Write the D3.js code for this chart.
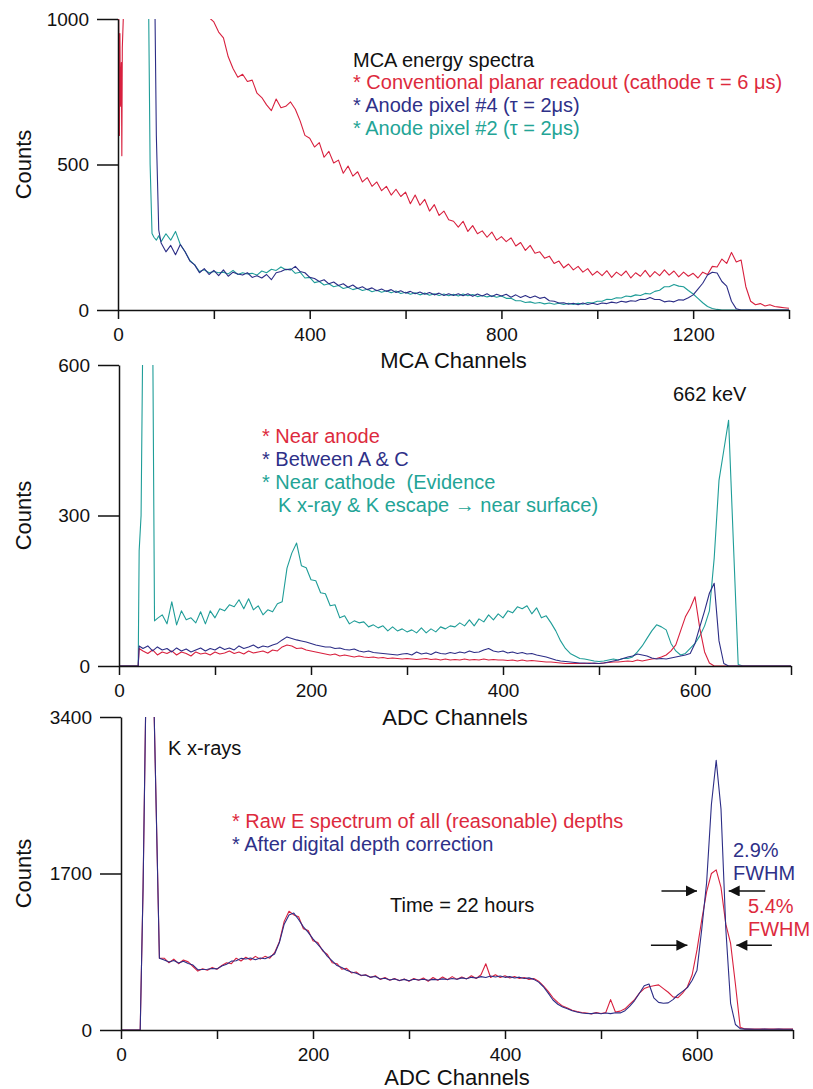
<!DOCTYPE html>
<html>
<head>
<meta charset="utf-8">
<script src="https://cdn.jsdelivr.net/npm/d3@7"></script>
<style>
  body { margin: 0; background: #fff; }
  svg { display: block; font-family: "Liberation Sans", Arial, Helvetica, sans-serif; }
  .axis path, .axis line { stroke: #111; stroke-width: 1.5px; }
  .axis text { fill: #111; font-size: 19px; }
  .spec { fill: none; stroke-width: 1.1px; stroke-linejoin: round; }
</style>
</head>
<body>
<svg id="chart" width="813" height="1089"></svg>
<script>
// ---- colours ----
const RED = '#d8203e', BLUE = '#2c2d86', TEAL = '#1f9d98';
const RED_TXT = '#dd2a3d', BLUE_TXT = '#2e3088', TEAL_TXT = '#23a496';

// ---- panel 1: MCA spectra (lead points are [channel, counts], then start/step blocks) ----
const topRedLead = [[0,0],[1,1250],[2,800],[3,600],[4,950],[5,700],[7,850],[8,530],[9,900],[11,1000],[13,1300]];
const topRed = [ // ch 20..1400, step 10
  1400,1450,1480,1460,1420,1400,1380,1350,1320,1290,
  1260,1230,1200,1170,1140,1100,1060,1005,990,955,
  935,870,830,800,810,785,790,745,730,705,
  685,725,695,700,715,690,650,600,590,560,
  575,525,545,505,515,470,495,460,475,440,
  455,425,440,410,425,395,415,390,405,365,
  395,360,380,340,362,325,340,310,305,285,
  305,270,290,262,272,250,268,240,252,235,
  248,220,232,205,222,195,200,178,185,160,
  168,145,158,138,150,130,142,120,133,118,
  135,112,130,118,134,110,128,116,136,114,
  132,118,138,120,134,114,130,116,126,110,
  130,122,150,148,175,160,198,165,172,80,
  30,18,22,14,18,12,10,8,6
];
const topBlueLead = [[60,3000],[76,1200],[80,600],[85,275],[90,230]];
const topBlue = [ // ch 100..1400, step 10
  200,222,190,225,200,168,155,128,142,122,
  136,118,138,116,130,124,120,128,112,118,
  110,122,104,128,132,140,138,150,132,128,
  112,108,98,104,90,96,84,90,78,86,
  74,80,70,76,66,72,64,70,60,66,
  58,64,56,62,54,60,52,58,50,56,
  50,56,49,56,47,55,48,56,46,54,
  48,54,44,52,43,50,42,48,40,44,
  32,30,24,25,20,23,18,24,19,23,
  19,24,22,27,24,30,27,32,30,37,
  36,43,36,36,28,31,28,35,34,42,
  52,72,92,120,130,127,98,82,30,4,
  0,0,0,0,0,0,0,0,0,0,0
];
const topTealLead = [[50,3000],[63,1200],[67,500],[71,263],[75,250],[80,240],[85,255],[90,235]];
const topTeal = [ // ch 100..1400, step 10
  262,240,270,225,200,170,155,132,138,128,
  132,128,130,124,136,122,128,124,126,120,
  134,128,140,136,148,138,142,126,130,110,
  112,94,98,86,90,80,84,74,78,70,
  75,67,71,63,68,61,66,59,65,57,
  61,54,59,52,58,51,56,50,55,49,
  54,48,55,49,53,46,50,45,49,44,
  48,40,40,32,32,26,28,23,26,21,
  24,20,23,19,23,19,23,20,26,24,
  30,30,37,36,42,41,48,46,52,50,
  57,55,64,68,80,80,88,82,80,67,
  55,40,25,12,5,2,0,0,0,0,
  0,0,0,0,0,0,0,0,0,0,0
];

// ---- panel 2: depth-sorted ADC spectra ----
const midTealLead = [[0,0],[20,0],[21,230],[23,300],[25,700],[35,700],[37,90]];
const midTeal = [ // ch 40..700, step 5
  95,102,84,128,82,110,92,96,86,108,
  84,110,96,114,110,122,118,132,114,134,
  112,120,102,112,108,124,128,195,225,245,
  200,196,172,170,146,144,120,122,96,100,
  84,90,86,88,78,82,76,80,70,78,
  70,74,68,72,66,76,66,74,68,78,
  74,80,78,86,80,92,80,94,88,102,
  92,104,96,110,106,118,114,120,104,116,
  96,100,86,70,50,35,25,20,15,14,
  12,10,9,10,12,14,12,15,15,18,
  28,40,55,70,82,78,72,45,30,22,
  25,35,45,60,80,110,215,370,430,490,
  245,3,0,0,0,0,0,0,0,0,
  0,0,0
];
const midRedLead = [[0,0],[20,0],[21,35]];
const midRed = [ // ch 25..700, step 5
  30,25,32,22,28,25,30,22,28,25,
  20,28,24,26,22,28,24,26,30,25,
  28,24,30,26,28,30,26,32,30,38,
  42,40,35,36,32,30,28,26,24,22,
  24,20,22,20,18,20,18,17,18,16,
  17,15,16,15,14,15,14,13,14,15,
  13,14,12,14,12,13,12,14,12,13,
  12,14,12,13,12,12,11,12,10,12,
  10,11,10,9,8,8,7,6,5,5,
  5,5,5,6,5,5,6,7,8,8,
  9,10,9,12,10,12,14,15,18,22,
  30,42,70,98,115,138,75,28,6,0,
  0,0,0,0,0,0,0,0,0,0,
  0,0,0,0,0,0
];
const midBlueLead = [[0,0],[20,0],[21,40]];
const midBlue = [ // ch 25..700, step 5
  35,40,30,38,32,35,28,36,30,34,
  28,32,36,30,35,32,38,33,36,32,
  40,35,38,42,36,40,38,42,45,52,
  58,55,52,50,48,45,42,40,38,38,
  35,36,33,32,34,30,28,30,27,26,
  25,24,23,22,24,25,22,28,24,26,
  23,28,25,24,27,25,28,26,30,27,
  28,32,35,30,28,30,26,28,25,27,
  24,25,22,20,18,15,12,10,9,8,
  7,6,6,5,6,5,6,8,10,12,
  15,18,20,24,22,20,16,14,15,14,
  16,18,20,22,25,45,78,110,145,165,
  50,5,0,0,0,0,0,0,0,0,
  0,0,0,0,0,0
];

// ---- panel 3: raw vs depth-corrected ----
const botLead = [[0,0],[20,0],[23,1550],[26,3700],[34,3700],[40,779]];
const botCorr = [ // ch 45..700, step 5
  760,738,755,728,748,722,705,655,658,660,
  668,664,696,714,748,752,778,772,782,764,
  782,774,796,826,950,1150,1250,1270,1200,1120,
  1060,990,930,870,800,750,700,680,650,630,
  616,594,596,574,582,554,562,544,555,538,
  550,534,552,544,552,540,550,546,555,548,
  560,552,566,556,572,564,580,570,586,576,
  586,572,580,565,574,560,566,550,520,470,
  400,326,280,250,230,210,195,185,180,178,
  184,176,185,178,188,186,210,260,320,400,
  480,500,350,300,290,295,330,380,420,460,
  540,650,1100,1600,2450,2930,2400,1100,290,60,
  15,10,9,8,8,9,8,8,9,8,
  8,8
];
const botRaw = [ // ch 45..700, step 5
  780,730,770,720,760,740,690,640,665,650,
  680,660,700,730,720,780,750,790,760,800,
  770,800,780,840,960,1180,1290,1250,1230,1100,
  1080,970,950,860,820,730,720,660,670,620,
  630,590,600,570,590,550,570,540,560,535,
  555,530,560,540,565,530,570,540,575,545,
  580,550,575,555,590,560,600,720,570,600,
  570,590,565,580,560,570,550,560,530,480,
  420,350,300,260,240,215,200,190,185,175,
  190,180,190,330,195,205,230,280,330,400,
  450,470,480,490,450,410,360,350,400,470,
  600,870,1200,1500,1700,1740,1550,1150,940,500,
  30,12,10,11,10,9,10,10,11,10,
  10,10
];

// FWHM arrows: [y count, from channel, to channel]
const fwhmArrows = [
  [1510, 563, 600], [1510, 671, 633],
  [920, 552, 590], [920, 678, 641]
];

function build(lead, start, step, values) {
  return lead.concat(values.map((v, i) => [start + i * step, v]));
}

const panels = [
  {
    left: 118, right: 789, top: 19, bottom: 310,
    xMax: 1400, yMax: 1000, xStep: 200, xMajor: [0, 400, 800, 1200], yTicks: [0, 500, 1000],
    xLabel: 'MCA Channels', xLabelY: 368,
    series: [
      { color: RED, pts: build(topRedLead, 20, 10, topRed) },
      { color: TEAL, pts: build(topTealLead, 100, 10, topTeal) },
      { color: BLUE, pts: build(topBlueLead, 100, 10, topBlue) }
    ]
  },
  {
    left: 119, right: 791, top: 365, bottom: 666,
    xMax: 700, yMax: 600, xStep: 100, xMajor: [0, 200, 400, 600], yTicks: [0, 300, 600],
    xLabel: 'ADC Channels', xLabelY: 725,
    series: [
      { color: TEAL, pts: build(midTealLead, 40, 5, midTeal) },
      { color: RED, pts: build(midRedLead, 25, 5, midRed) },
      { color: BLUE, pts: build(midBlueLead, 25, 5, midBlue) }
    ]
  },
  {
    left: 121, right: 793, top: 717, bottom: 1030,
    xMax: 700, yMax: 3400, xStep: 100, xMajor: [0, 200, 400, 600], yTicks: [0, 1700, 3400],
    xLabel: 'ADC Channels', xLabelY: 1085,
    series: [
      { color: RED, pts: build(botLead, 45, 5, botRaw) },
      { color: BLUE, pts: build(botLead, 45, 5, botCorr) }
    ]
  }
];

const svg = d3.select('#chart');
const defs = svg.append('defs');
defs.append('marker')
  .attr('id', 'head').attr('viewBox', '0 0 10 10')
  .attr('refX', 10).attr('refY', 5)
  .attr('markerWidth', 13).attr('markerHeight', 11)
  .attr('markerUnits', 'userSpaceOnUse')
  .attr('orient', 'auto')
  .append('path').attr('d', 'M0,0 L10,5 L0,10 Z').attr('fill', '#111');

const scales = panels.map((p, i) => {
  const x = d3.scaleLinear().domain([0, p.xMax]).range([p.left, p.right]);
  const y = d3.scaleLinear().domain([0, p.yMax]).range([p.bottom, p.top]);

  defs.append('clipPath').attr('id', 'clip' + i)
    .append('rect')
    .attr('x', p.left).attr('y', p.top)
    .attr('width', p.right - p.left).attr('height', p.bottom - p.top);

  const line = d3.line().x(d => x(d[0])).y(d => y(d[1]));
  const g = svg.append('g').attr('clip-path', `url(#clip${i})`);
  p.series.forEach(s => {
    g.append('path').attr('class', 'spec')
      .attr('stroke', s.color)
      .attr('d', line(s.pts));
  });

  // x axis: ticks every xStep, labels on the majors
  svg.append('g').attr('class', 'axis')
    .attr('transform', `translate(0,${p.bottom})`)
    .call(d3.axisBottom(x)
      .tickValues(d3.range(0, p.xMax + 1, p.xStep))
      .tickFormat(d => p.xMajor.includes(d) ? d : '')
      .tickSize(9).tickSizeOuter(0).tickPadding(9));

  // y axis
  svg.append('g').attr('class', 'axis')
    .attr('transform', `translate(${p.left},0)`)
    .call(d3.axisLeft(y)
      .tickValues(p.yTicks)
      .tickFormat(d3.format('d'))
      .tickSize(21).tickSizeOuter(0).tickPadding(8));

  svg.append('text')
    .attr('x', (p.left + p.right) / 2).attr('y', p.xLabelY)
    .attr('text-anchor', 'middle').attr('font-size', 22).attr('fill', '#111')
    .text(p.xLabel);

  svg.append('text')
    .attr('transform', `translate(31,${(p.top + p.bottom) / 2}) rotate(-90)`)
    .attr('text-anchor', 'middle').attr('font-size', 22).attr('fill', '#111')
    .text('Counts');

  return { x, y };
});

// ---- annotations ----
function label(x, y, txt, color) {
  svg.append('text').attr('x', x).attr('y', y)
    .attr('font-size', 20).attr('fill', color)
    .text(txt);
}

label(353, 67, 'MCA energy spectra', '#111');
label(353, 89, '* Conventional planar readout (cathode \u03c4 = 6 \u03bcs)', RED_TXT);
label(353, 112, '* Anode pixel #4 (\u03c4 = 2\u03bcs)', BLUE_TXT);
label(353, 135, '* Anode pixel #2 (\u03c4 = 2\u03bcs)', TEAL_TXT);

label(673, 401, '662 keV', '#111');
label(262, 443, '* Near anode', RED_TXT);
label(262, 466, '* Between A & C', BLUE_TXT);
label(262, 489, '* Near cathode \u00a0(Evidence', TEAL_TXT);
label(278, 512, 'K x-ray & K escape \u2192 near surface)', TEAL_TXT);

label(168, 755, 'K x-rays', '#111');
label(232, 828, '* Raw E spectrum of all (reasonable) depths', RED_TXT);
label(232, 851, '* After digital depth correction', BLUE_TXT);
label(390, 912, 'Time = 22 hours', '#111');
label(733, 857, '2.9%', BLUE_TXT);
label(733, 880, 'FWHM', BLUE_TXT);
label(748, 913, '5.4%', RED_TXT);
label(748, 936, 'FWHM', RED_TXT);

const bs = scales[2];
fwhmArrows.forEach(a => {
  svg.append('line')
    .attr('x1', bs.x(a[1])).attr('x2', bs.x(a[2]))
    .attr('y1', bs.y(a[0])).attr('y2', bs.y(a[0]))
    .attr('stroke', '#111').attr('stroke-width', 1.6)
    .attr('marker-end', 'url(#head)');
});
</script>
</body>
</html>
